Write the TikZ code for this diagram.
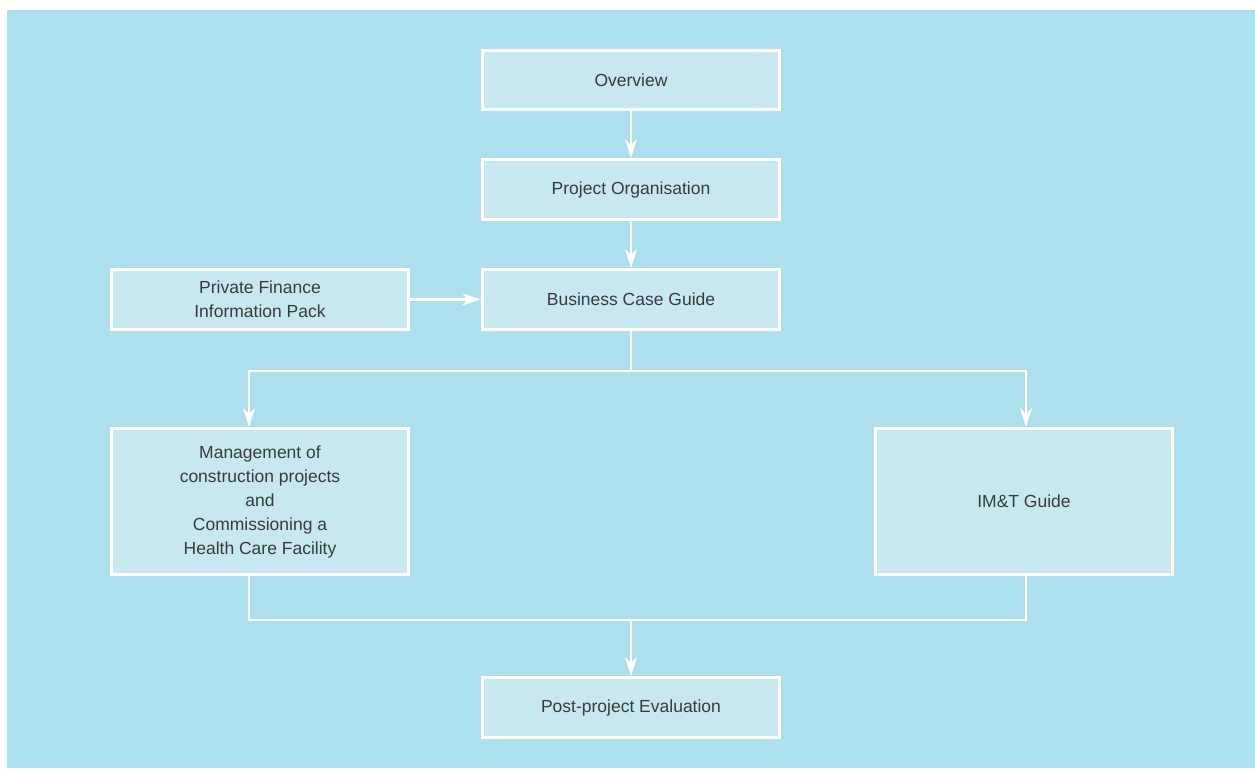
\documentclass[tikz,border=0pt]{standalone}
\usepackage{fontspec}
\setmainfont{Liberation Sans}
\usetikzlibrary{arrows.meta}
\definecolor{bgblue}{HTML}{AEDFEC}
\definecolor{boxblue}{HTML}{C8E8F1}
\definecolor{txt}{HTML}{3A3A3A}
\begin{document}
\begin{tikzpicture}[x=1pt,y=-1pt,
  box/.style={draw=white,line width=3pt,fill=boxblue,text=txt,
    font=\fontsize{17.5}{24}\selectfont,align=center,inner sep=0pt,anchor=center},
  conn/.style={draw=white,line width=2.6pt},
  arr/.style={conn,-{Stealth[length=19pt,width=12pt,inset=6pt]}}]
\useasboundingbox (0,0) rectangle (1255,768);
\fill[bgblue] (7,10) rectangle (1255,768);
\node[box,minimum width=297pt,minimum height=59pt] (ov) at (631,80) {Overview};
\node[box,minimum width=297pt,minimum height=60pt] (po) at (631,189.5) {Project Organisation};
\node[box,minimum width=297pt,minimum height=60pt] (bcg) at (631,299.5) {Business Case Guide};
\node[box,minimum width=297pt,minimum height=60pt] (pf) at (260,299.5) {Private Finance\\Information Pack};
\node[box,minimum width=297pt,minimum height=146pt] (mc) at (260,501.5) {Management of\\construction projects\\and\\Commissioning a\\Health Care Facility};
\node[box,minimum width=297pt,minimum height=146pt] (im) at (1024,501.5) {IM\&T Guide};
\node[box,minimum width=297pt,minimum height=60pt] (pp) at (631,707.5) {Post-project Evaluation};
\coordinate (split) at (631,371);
\coordinate (join) at (631,620);
\draw[arr] (ov.south) -- (po.north);
\draw[arr] (po.south) -- (bcg.north);
\draw[arr] (pf.east) -- (bcg.west);
\draw[conn] (bcg.south) -- (split);
\draw[arr] (split) -| (mc.north -| 249,0);
\draw[arr] (split) -| (im.north -| 1026,0);
\draw[conn] (mc.south -| 249,0) |- (join);
\draw[conn] (im.south -| 1026,0) |- (join);
\draw[arr] (join) -- (pp.north);
\end{tikzpicture}
\end{document}
